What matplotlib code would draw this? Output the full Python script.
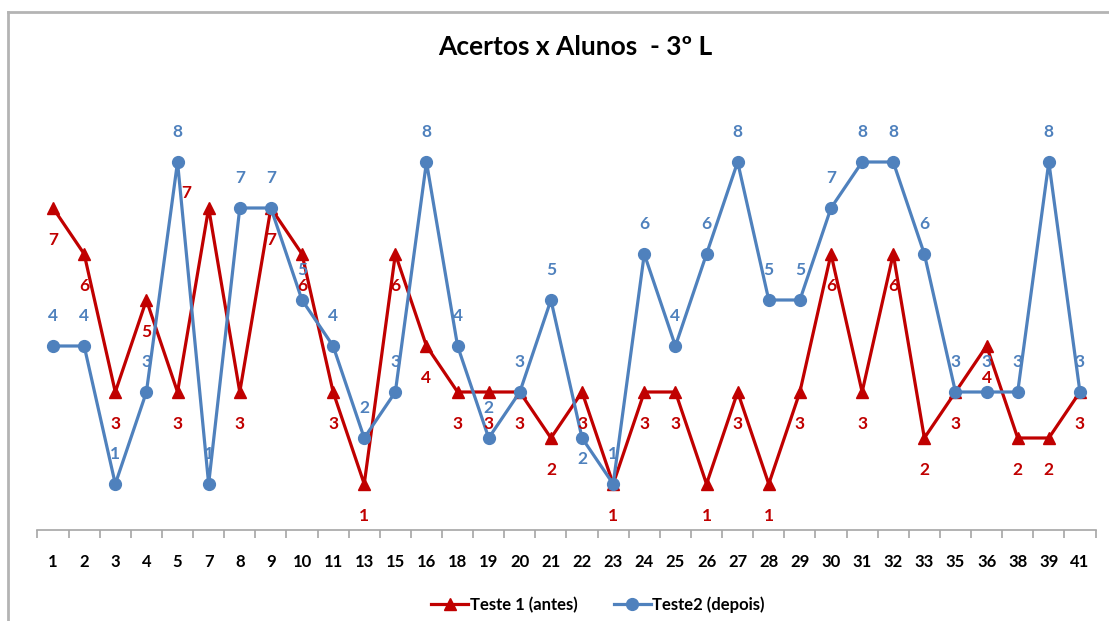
import matplotlib
matplotlib.use("Agg")
import matplotlib.pyplot as plt
from matplotlib import font_manager
from matplotlib.lines import Line2D

# Students (category axis) and number of correct answers per test
alunos = ["1", "2", "3", "4", "5", "7", "8", "9", "10", "11", "13", "15", "16", "18",
          "19", "20", "21", "22", "23", "24", "25", "26", "27", "28", "29", "30",
          "31", "32", "33", "35", "36", "38", "39", "41"]
teste1 = [7, 6, 3, 5, 3, 7, 3, 7, 6, 3, 1, 6, 4, 3, 3, 3, 2, 3, 1, 3, 3, 1, 3, 1,
          3, 6, 3, 6, 2, 3, 4, 2, 2, 3]
teste2 = [4, 4, 1, 3, 8, 1, 7, 7, 5, 4, 2, 3, 8, 4, 2, 3, 5, 2, 1, 6, 4, 6, 8, 5,
          5, 7, 8, 8, 6, 3, 3, 3, 8, 3]

titulo = "Acertos x Alunos  - 3º L"
nome1 = "Teste 1 (antes)"
nome2 = "Teste2 (depois)"

RED = "#C00000"
BLUE = "#4F81BD"
GRAY = "#A6A6A6"

available = {f.name for f in font_manager.fontManager.ttflist}
cond = "Liberation Sans Narrow" if "Liberation Sans Narrow" in available else "Lato"
plt.rcParams["font.family"] = [cond, "DejaVu Sans"]

W, H = 1109, 621
fig = plt.figure(figsize=(W / 100, H / 100), dpi=100)

# plot area: category axis from x=37.5 to 1095.5 px, zero line at y=530 px
left, right = 37.5 / W, 1095.5 / W
bottom, top = 1 - 530 / H, 1 - 116 / H
ax = fig.add_axes([left, bottom, right - left, top - bottom])
ax.set_xlim(-0.5, len(alunos) - 0.5)
ax.set_ylim(0, 9)

x = list(range(len(alunos)))
ax.plot(x, teste1, color=RED, lw=2.3, marker="^", ms=9, mec=RED, mfc=RED,
        zorder=3, clip_on=False)
ax.plot(x, teste2, color=BLUE, lw=2.3, marker="o", ms=8.5, mec=BLUE, mfc=BLUE,
        zorder=4, clip_on=False)

# data labels: red below the markers, blue above (a few moved by hand)
special1 = {5: (-16, 11)}
special2 = {17: (0, -15)}
for i, v in enumerate(teste1):
    dx, dy = special1.get(i, (0, -23))
    ax.annotate(str(v), (i, v), xytext=(dx, dy), textcoords="offset points",
                ha="center", va="center", color=RED, fontsize=12.5,
                fontweight="bold", zorder=5, annotation_clip=False)
for i, v in enumerate(teste2):
    dx, dy = special2.get(i, (0, 21.5))
    ax.annotate(str(v), (i, v), xytext=(dx, dy), textcoords="offset points",
                ha="center", va="center", color=BLUE, fontsize=12.5,
                fontweight="bold", zorder=5, annotation_clip=False)

# category axis
for s in ["top", "right", "left"]:
    ax.spines[s].set_visible(False)
ax.spines["bottom"].set_color(GRAY)
ax.spines["bottom"].set_linewidth(1.2)
ax.set_yticks([])
ax.set_xticks(x)
ax.set_xticklabels(alunos, fontsize=12, fontweight="bold", color="black")
ax.tick_params(axis="x", length=0, pad=17)
ax.set_xticks([i - 0.5 for i in range(len(alunos) + 1)], minor=True)
ax.tick_params(axis="x", which="minor", length=6, width=1.2, color=GRAY)

# title
fig.text(575 / W, 1 - 47 / H, titulo, ha="center", va="center",
         fontsize=19, fontweight="bold", color="black")

# legend
handles = [
    Line2D([], [], color=RED, lw=2.3, marker="^", ms=9),
    Line2D([], [], color=BLUE, lw=2.3, marker="o", ms=8.5),
]
fig.legend(handles, [nome1, nome2], loc="center", bbox_to_anchor=(598 / W, 1 - 605 / H),
           ncol=2, frameon=False, handlelength=2.2, handletextpad=0.1,
           columnspacing=2.2, prop={"weight": "bold", "size": 12})

# chart frame (top and left edges)
fig.add_artist(Line2D([8 / W, 8 / W], [0, 1 - 12 / H], transform=fig.transFigure,
                      color="#B4B4B4", lw=2))
fig.add_artist(Line2D([8 / W, 1], [1 - 12 / H, 1 - 12 / H], transform=fig.transFigure,
                      color="#B4B4B4", lw=2))

fig.savefig("out.png", dpi=100)
